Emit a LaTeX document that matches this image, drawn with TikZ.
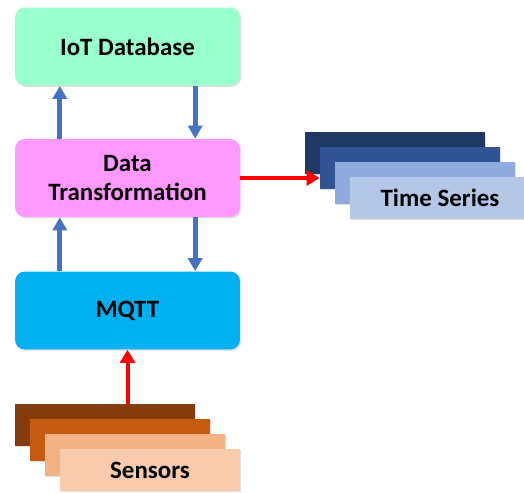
\documentclass[tikz,border=0pt]{standalone}
\usepackage{fontspec}
\setmainfont{Carlito}
\usetikzlibrary{arrows.meta,calc,shadows}
\definecolor{dbgreen}{HTML}{99FFCC}
\definecolor{dtpink}{HTML}{FF99FF}
\definecolor{mqttblue}{HTML}{00B0F0}
\definecolor{flowblue}{HTML}{4472C4}
\definecolor{tsnavy}{HTML}{203864}
\definecolor{tsblue}{HTML}{2F5597}
\definecolor{tsmid}{HTML}{8FAADC}
\definecolor{tslight}{HTML}{B4C7E7}
\definecolor{snbrown}{HTML}{843C0C}
\definecolor{snrust}{HTML}{C55A11}
\definecolor{snpeach}{HTML}{F4B183}
\definecolor{snlight}{HTML}{F8CBAD}
\tikzset{%
	stage/.style={rounded corners=0.2cm,minimum width=4.5cm,minimum height=1.56cm,
		align=center,font=\fontsize{14.2}{16.6}\selectfont\bfseries,
		drop shadow={shadow xshift=0.8pt,shadow yshift=-0.8pt,opacity=0.25}},
	layer/.style={minimum width=3.6cm,minimum height=0.84cm,inner sep=0pt,
		font=\fontsize{14.2}{16.6}\selectfont\bfseries,
		drop shadow={shadow xshift=0.8pt,shadow yshift=-0.8pt,opacity=0.25}},
	flow/.style={draw=flowblue,line width=0.1cm,-{Triangle[width=0.28cm,length=0.26cm]}},
	feed/.style={draw=red,line width=0.08cm,-{Triangle[width=0.3cm,length=0.26cm]}}
}

\begin{document}
\begin{tikzpicture}[x=0.02cm,y=-0.02cm]
	\clip (0,0) rectangle (524,493);
	
	%% processing stages
	\node[stage,fill=dbgreen] (iot) at (127.5,46.5) {IoT Database};
	\node[stage,fill=dtpink] (dt) at (127.5,178) {Data\\Transformation};
	\node[stage,fill=mqttblue] (mqtt) at (127.5,310.5) {MQTT};
	
	%% stacked layers: time series and sensors
	\foreach \i/\c in {1/tsnavy,2/tsblue,3/tsmid} { \node[layer,fill=\c] (ts\i) at (380+15*\i,138+15*\i) {}; }
	\node[layer,fill=tslight] (ts4) at (440,198) {Time Series};
	\foreach \i/\c in {1/snbrown,2/snrust,3/snpeach} { \node[layer,fill=\c] (sen\i) at (90+15*\i,410+15*\i) {}; }
	\node[layer,fill=snlight] (sen4) at (150,470) {Sensors};
	
	%% blue arrows between stages
	\draw[flow] ($(dt.north west)!.2!(dt.north east)$) -- ($(iot.south west)!.2!(iot.south east)$);
	\draw[flow] ($(iot.south west)!.8!(iot.south east)$) -- ($(dt.north west)!.8!(dt.north east)$);
	\draw[flow] ($(mqtt.north west)!.2!(mqtt.north east)$) -- ($(dt.south west)!.2!(dt.south east)$);
	\draw[flow] ($(dt.south west)!.8!(dt.south east)$) -- ($(mqtt.north west)!.8!(mqtt.north east)$);
	
	%% red feeds
	\draw[feed] (dt.east) -- (dt.east -| ts2.west);
	\draw[feed] (sen1.north -| mqtt.south) -- (mqtt.south);
\end{tikzpicture}
\end{document}
